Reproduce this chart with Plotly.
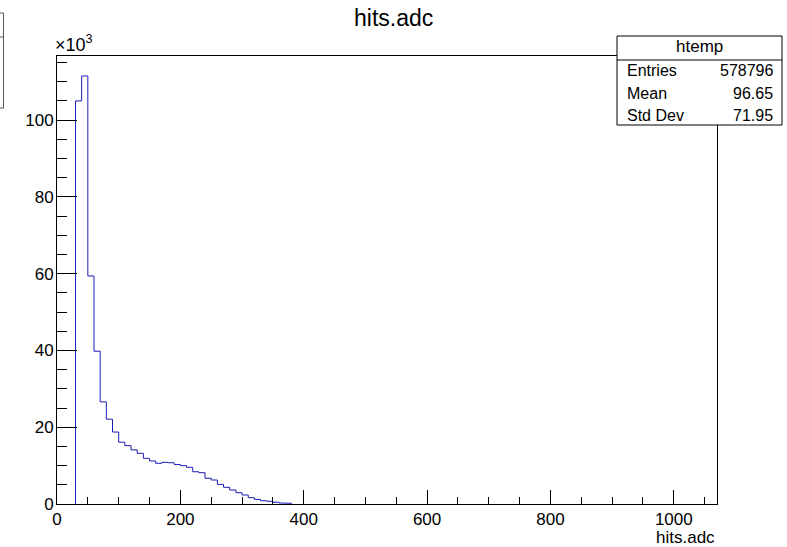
import numpy as np
import plotly.graph_objects as go

# ---- data ----
hist_title = "hits.adc"
x_title = "hits.adc"
bin_start = 30
bin_width = 10
counts_k = [105.0, 111.5, 59.4, 39.8, 26.6, 22.1, 18.75, 16.1, 15.2, 14.1,
            13.2, 11.9, 11.2, 10.6, 10.85, 10.75, 10.3, 10.0, 9.55, 8.4,
            8.15, 6.7, 6.25, 5.1, 4.35, 3.65, 2.95, 2.35, 1.65, 1.2,
            0.85, 0.7, 0.45, 0.25, 0.2]
x_tickvals = [0, 200, 400, 600, 800, 1000]
x_ticktext = ["0", "200", "400", "600", "800", "1000"]
y_tickvals = [0, 20, 40, 60, 80, 100]
y_ticktext = ["0", "20", "40", "60", "80", "100"]
x_range = [0, 1070]
y_range = [0, 116.7]
stats_name = "htemp"
stats_labels = ["Entries", "Mean", "Std Dev"]
stats_values = ["578796", "96.65", "71.95"]

# ---- geometry ----
W, H = 787, 547
L, R, T, B = 57, 717, 56, 504
FONT = "Liberation Sans, Arial, Helvetica, sans-serif"
LINE = "#1c1cb8"


def px(xp):
    return (xp - L) / (R - L)


def py(yp):
    return (B - yp) / (B - T)


counts = np.array(counts_k)
left_edges = bin_start + bin_width * np.arange(len(counts))
xs = np.concatenate([[left_edges[0]], left_edges, [left_edges[-1] + bin_width]])
ys = np.concatenate([[0], counts, [0]])

fig = go.Figure()
fig.add_trace(go.Scatter(x=xs, y=ys, mode="lines", line=dict(shape="hv", color=LINE, width=1),
                         hoverinfo="skip", showlegend=False))

axis_common = dict(showgrid=False, zeroline=False, showline=True, linecolor="black", linewidth=1,
                   mirror=True, ticks="inside", tickcolor="black", tickwidth=1,
                   tickfont=dict(family=FONT, size=17, color="black"))
fig.update_xaxes(range=x_range, tickvals=x_tickvals, ticktext=x_ticktext, ticklen=14,
                 minor=dict(dtick=50, ticklen=7, ticks="inside", tickcolor="black", tickwidth=1),
                 **axis_common)
fig.update_yaxes(range=y_range, tickvals=y_tickvals, ticktext=y_ticktext, ticklen=20,
                 ticklabelstandoff=-1,
                 minor=dict(dtick=5, ticklen=10, ticks="inside", tickcolor="black", tickwidth=1),
                 **axis_common)

shapes = []
# stats box
bx0, bx1, by0, by1, bym = 617, 782, 36, 125, 60
shapes.append(dict(type="rect", xref="paper", yref="paper", x0=px(bx0), x1=px(bx1), y0=py(by1), y1=py(by0),
                   line=dict(color="black", width=1), fillcolor="white", layer="above"))
shapes.append(dict(type="line", xref="paper", yref="paper", x0=px(bx0), x1=px(bx1), y0=py(bym), y1=py(bym),
                   line=dict(color="black", width=1), layer="above"))
# partial box at top-left edge
for (x0, y0, x1, y1) in [(3.5, 13, 3.5, 108), (-2, 13, 3.5, 13), (-2, 37, 3.5, 37), (-2, 108, 3.5, 108)]:
    shapes.append(dict(type="line", xref="paper", yref="paper", x0=px(x0), x1=px(x1), y0=py(y0), y1=py(y1),
                       line=dict(color="#555555", width=1), layer="above"))

ann = []
ann.append(dict(text=stats_name, x=px((bx0 + bx1) / 2), y=py(47), xref="paper", yref="paper",
                showarrow=False, xanchor="center", yanchor="middle",
                font=dict(family=FONT, size=17, color="black")))
for i, (lab, val) in enumerate(zip(stats_labels, stats_values)):
    yc = 70 + i * 23
    ann.append(dict(text=lab, x=px(625), y=py(yc), xref="paper", yref="paper", showarrow=False,
                    xanchor="left", yanchor="middle", font=dict(family=FONT, size=16, color="black")))
    ann.append(dict(text=val, x=px(775), y=py(yc), xref="paper", yref="paper", showarrow=False,
                    xanchor="right", yanchor="middle", font=dict(family=FONT, size=16, color="black")))
# exponent label
ann.append(dict(text="×10<sup>3</sup>", x=px(53), y=py(57), xref="paper", yref="paper", showarrow=False,
                xanchor="left", yanchor="bottom", font=dict(family=FONT, size=18, color="black")))
# x axis title
ann.append(dict(text=x_title, x=px(717), y=py(537), xref="paper", yref="paper", showarrow=False,
                xanchor="right", yanchor="middle", font=dict(family=FONT, size=17, color="black")))
# title
ann.append(dict(text=hist_title, x=px(393.5), y=py(18), xref="paper", yref="paper", showarrow=False,
                xanchor="center", yanchor="middle", font=dict(family=FONT, size=23, color="black")))

fig.update_layout(width=W, height=H, margin=dict(l=L, r=W - R, t=T, b=H - B, pad=0),
                  paper_bgcolor="white", plot_bgcolor="white", shapes=shapes, annotations=ann,
                  showlegend=False)

fig.write_html("out.html", config={"displayModeBar": False},
               post_script="document.body.style.margin='0';document.body.style.overflow='hidden';")
